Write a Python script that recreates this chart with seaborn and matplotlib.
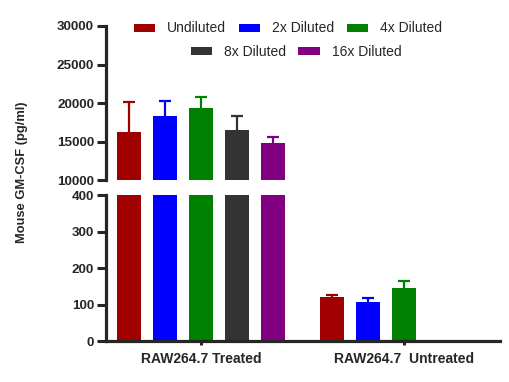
import numpy as np
import pandas as pd
import matplotlib
matplotlib.use("Agg")
import matplotlib.pyplot as plt
import matplotlib.colors as mcolors
import seaborn as sns

groups = ["RAW264.7 Treated", "RAW264.7  Untreated"]
dilutions = ["Undiluted", "2x Diluted", "4x Diluted", "8x Diluted", "16x Diluted"]
colors = ["#A00000", "#0000FF", "#008000", "#333333", "#800080"]
treated_mean = [16260, 18330, 19370, 16520, 14830]
treated_err = [3930, 1950, 1400, 1850, 740]
untreated_mean = [121, 107, 146, np.nan, np.nan]
untreated_err = [5, 10, 18, np.nan, np.nan]
top_ticks = [10000, 15000, 20000, 25000, 30000]
bottom_ticks = [0, 100, 200, 300, 400]

rows = []
for g, means, errs in [(groups[0], treated_mean, treated_err), (groups[1], untreated_mean, untreated_err)]:
    for d, m, e in zip(dilutions, means, errs):
        rows.append({"group": g, "dilution": d, "value": m, "err": e})
df = pd.DataFrame(rows)
err_lookup = {(r.group, r.dilution): r.err for r in df.itertuples()}

sns.set_style("white")
plt.rcParams["font.family"] = ["Liberation Sans", "DejaVu Sans"]

fig = plt.figure(figsize=(5.09, 3.82), dpi=100)
L, R = 106 / 509, 500 / 509
ax_top = fig.add_axes([L, 1 - 180.3 / 382, R - L, (180.3 - 26) / 382])
ax_bot = fig.add_axes([L, 1 - 341 / 382, R - L, (341 - 195.3) / 382])

palette = dict(zip(dilutions, colors))
rgb_to_dil = {tuple(np.round(mcolors.to_rgb(c), 3)): d for d, c in palette.items()}
XL = (-0.468, 1.473)

for ax in (ax_top, ax_bot):
    sns.barplot(data=df.dropna(subset=["value"]), x="group", y="value", hue="dilution",
                order=groups, hue_order=dilutions, palette=palette, width=0.887, gap=0.333,
                errorbar=None, saturation=1, linewidth=0, ax=ax, legend=(ax is ax_top))
    bars = list(ax.patches)
    for bar in bars:
        bar.set_zorder(2)
        key = tuple(np.round(bar.get_facecolor()[:3], 3))
        lab = rgb_to_dil.get(key)
        if lab is None:
            continue
        cx = bar.get_x() + bar.get_width() / 2
        gi = int(round(cx))
        h = bar.get_height()
        e = err_lookup.get((groups[gi], lab), np.nan)
        if np.isnan(h) or np.isnan(e):
            continue
        eb = ax.errorbar(cx, h, yerr=[[0], [e]], fmt="none", ecolor=palette[lab],
                         elinewidth=1.6, capsize=4.3, capthick=1.6, zorder=1)
        for cl in list(eb[1]):
            yd = np.asarray(cl.get_ydata(), dtype=float)
            if np.allclose(yd, h):
                cl.remove()
    ax.set_xlim(*XL)
    ax.set_xlabel("")
    ax.set_ylabel("")
    for s in ("top", "right"):
        ax.spines[s].set_visible(False)
    ax.spines["left"].set_linewidth(2.3)
    ax.spines["bottom"].set_linewidth(2.3)
    ax.tick_params(axis="y", length=6.5, width=2.2, pad=2, labelsize=9.5, left=True)

ax_top.set_ylim(10000, 30000)
ax_top.set_yticks(top_ticks)
ax_top.set_yticklabels([str(t) for t in top_ticks], fontweight="bold", fontsize=9.7)
ax_top.spines["bottom"].set_visible(False)
ax_top.set_xticks([])

ax_bot.set_ylim(0, 400)
ax_bot.set_yticks(bottom_ticks)
ax_bot.set_yticklabels([str(t) for t in bottom_ticks], fontweight="bold", fontsize=9.7)
ax_bot.set_xticks([0, 1])
ax_bot.set_xticklabels(groups, fontweight="bold", fontsize=10)
ax_bot.tick_params(axis="x", length=3, width=2.2, pad=5, bottom=True)

handles, labels = ax_top.get_legend_handles_labels()
ax_top.get_legend().remove()
leg_kw = dict(frameon=False, fontsize=10, handlelength=1.55, handleheight=0.5,
              handletextpad=0.85, columnspacing=0.9, borderpad=0, borderaxespad=0)
fig.legend(handles[:3], labels[:3], ncol=3, loc="center", bbox_to_anchor=(288 / 509, 1 - 28.5 / 382), **leg_kw)
fig.legend(handles[3:], labels[3:], ncol=2, loc="center", bbox_to_anchor=(296 / 509, 1 - 52 / 382), **leg_kw)

fig.text(22 / 509, 1 - 172.5 / 382, "Mouse GM-CSF (pg/ml)", rotation=90, ha="center", va="center",
         fontweight="bold", fontsize=9.3)

fig.savefig("out.png", dpi=100)
